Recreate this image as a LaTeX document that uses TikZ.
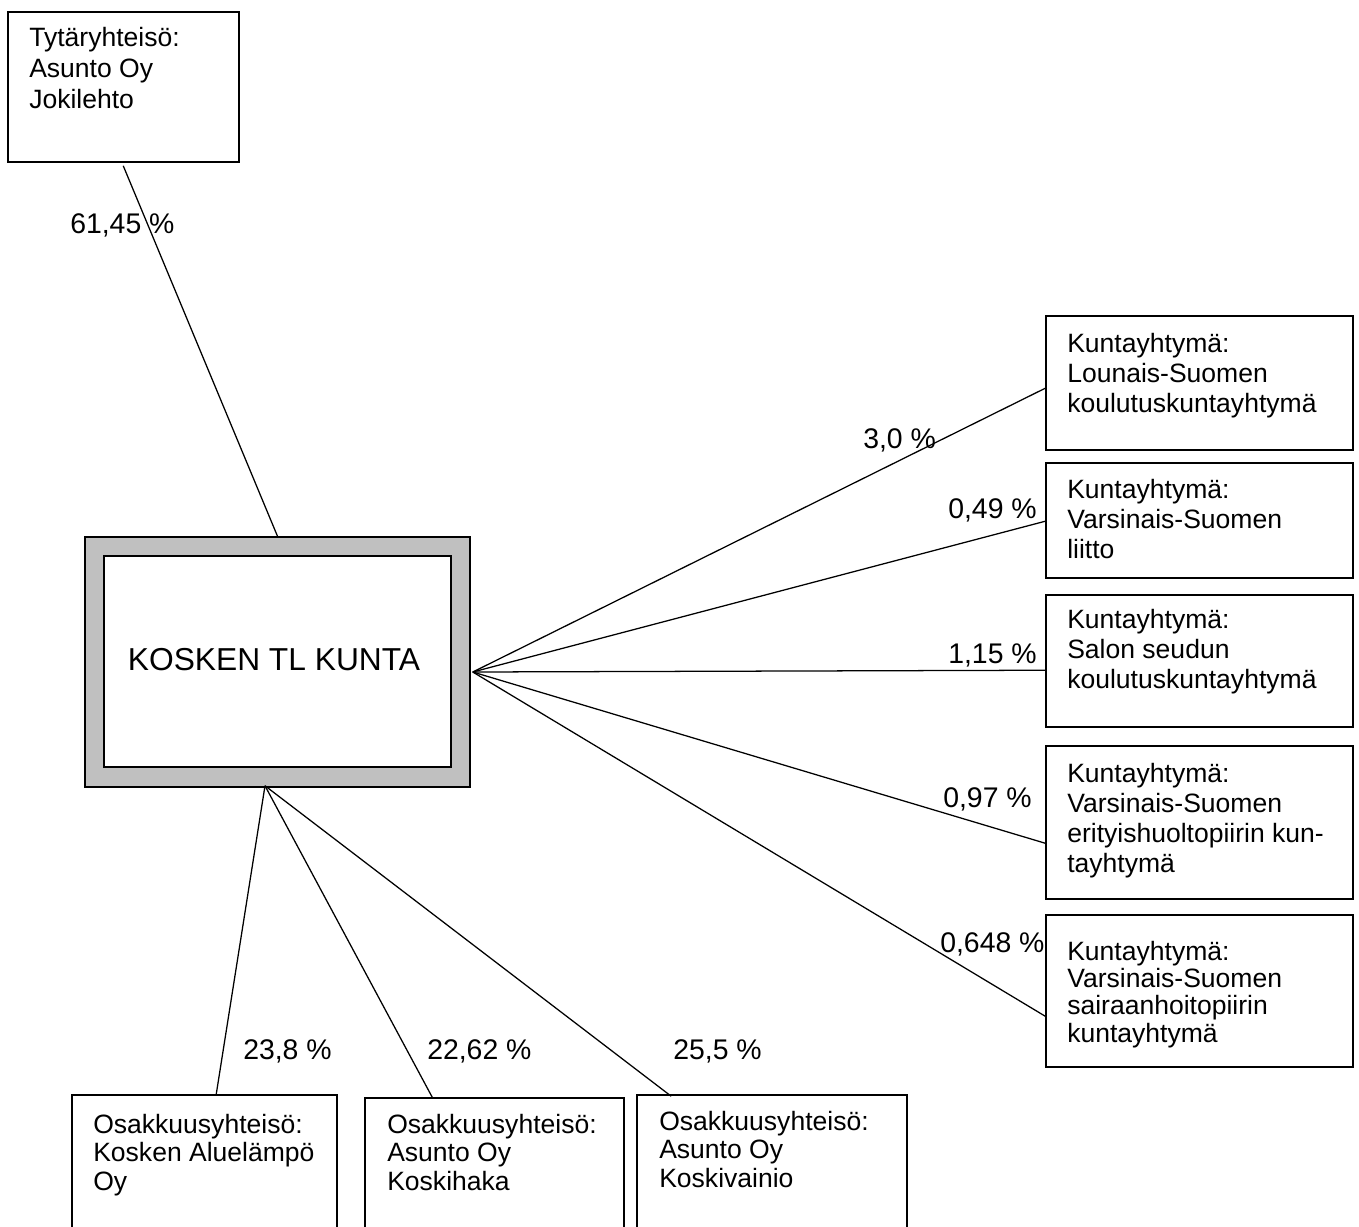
\documentclass[tikz,border=0pt]{standalone}
\usepackage{fontspec}
\setmainfont{Liberation Sans}
\usetikzlibrary{fit,calc}
\newcommand{\mlines}[1]{\begin{tabular}[t]{@{}l@{}}#1\end{tabular}}
\begin{document}
\begin{tikzpicture}[x=0.75pt,y=-0.75pt,
  box/.style={draw, line width=1.15pt, inner sep=0pt, fill=white},
  mainouter/.style={draw, line width=1.15pt, inner sep=0pt, fill=gray75},
  maininner/.style={draw, line width=1.15pt, inner sep=0pt, fill=white},
  conn/.style={draw, line width=0.95pt},
  btxt/.style={anchor=base west, inner sep=0pt, font=\fontsize{19.9}{22.5}\selectfont},
  pct/.style={anchor=base west, inner sep=0pt, font=\fontsize{21.3}{25}\selectfont},
]
\definecolor{gray75}{HTML}{C0C0C0}
\clip (0,0) rectangle (1359,1227);
\fill[white] (0,0) rectangle (1359,1227);

% boxes
\node[box, fit={(8,12) (239,162)}] (topbox) {};
\node[mainouter, fit={(85,537) (470,787)}] (main) {};
\node[maininner, fit={(104,556) (451,767)}] (maininner) {};

\node[box, fit={(1046,316) (1353,450)}] (r1) {};
\node[box, fit={(1046,463) (1353,578)}] (r2) {};
\node[box, fit={(1046,595) (1353,727)}] (r3) {};
\node[box, fit={(1046,746) (1353,899)}] (r4) {};
\node[box, fit={(1046,915) (1353,1067)}] (r5) {};

\node[box, fit={(72,1095) (337,1260)}] (b1) {};
\node[box, fit={(365,1098) (624,1260)}] (b2) {};
\node[box, fit={(637,1095) (907,1260)}] (b3) {};

% connectors
\coordinate (mR) at ($(main.east)+(2,10)$);
\coordinate (mB) at ($(main.south)+(-12.5,-2)$);
\draw[conn] ($(topbox.south west)+(116,3)$) -- (main.north);
\draw[conn] (mR) -- ($(r1.north west)+(0,73)$);
\draw[conn] (mR) -- ($(r2.north west)+(0,59)$);
\draw[conn] (mR) -- ($(r3.north west)+(0,76)$);
\draw[conn] (mR) -- ($(r4.north west)+(0,98)$);
\draw[conn] (mR) -- ($(r5.north west)+(0,102)$);
\draw[conn] (mB) -- ($(b1.north west)+(145,0)$);
\draw[conn] (mB) -- ($(b2.north west)+(68,0)$);
\draw[conn] (mB) -- ($(b3.north west)+(35,2)$);

% texts
\node[btxt, font=\fontsize{19.9}{22.9}\selectfont] (ttop) at (29,47) {\mlines{Tytäryhteisö:\\Asunto Oy\\Jokilehto}};
\node[anchor=base, inner sep=0pt, font=\fontsize{23.8}{28}\selectfont] (tmain) at (274,670.5) {KOSKEN TL KUNTA};

\node[btxt] (tr1) at (1067,352) {\mlines{Kuntayhtymä:\\Lounais-Suomen\\koulutuskuntayhtymä}};
\node[btxt] (tr2) at (1067,498) {\mlines{Kuntayhtymä:\\Varsinais-Suomen\\liitto}};
\node[btxt] (tr3) at (1067,628) {\mlines{Kuntayhtymä:\\Salon seudun\\koulutuskuntayhtymä}};
\node[btxt] (tr4) at (1067,782) {\mlines{Kuntayhtymä:\\Varsinais-Suomen\\erityishuoltopiirin kun-\\tayhtymä}};
\node[btxt, font=\fontsize{19.9}{20.3}\selectfont] (tr5) at (1067,960) {\mlines{Kuntayhtymä:\\Varsinais-Suomen\\sairaanhoitopiirin\\kuntayhtymä}};

\node[btxt, font=\fontsize{19.9}{21.4}\selectfont] (tb1) at (93,1133) {\mlines{Osakkuusyhteisö:\\Kosken Aluelämpö\\Oy}};
\node[btxt, font=\fontsize{19.9}{21.4}\selectfont] (tb2) at (387,1133) {\mlines{Osakkuusyhteisö:\\Asunto Oy\\Koskihaka}};
\node[btxt, font=\fontsize{19.9}{21.4}\selectfont] (tb3) at (659,1130) {\mlines{Osakkuusyhteisö:\\Asunto Oy\\Koskivainio}};

% percentages
\node[pct] (p0) at (70,233) {61,45 \%};
\node[pct] (p1) at (863,448) {3,0 \%};
\node[pct] (p2) at (948,518) {0,49 \%};
\node[pct] (p3) at (948,663) {1,15 \%};
\node[pct] (p4) at (943,807) {0,97 \%};
\node[pct] (p5) at (940,952) {0,648 \%};
\node[pct] (p6) at (243,1059) {23,8 \%};
\node[pct] (p7) at (427,1059) {22,62 \%};
\node[pct] (p8) at (673,1059) {25,5 \%};
\end{tikzpicture}
\end{document}
